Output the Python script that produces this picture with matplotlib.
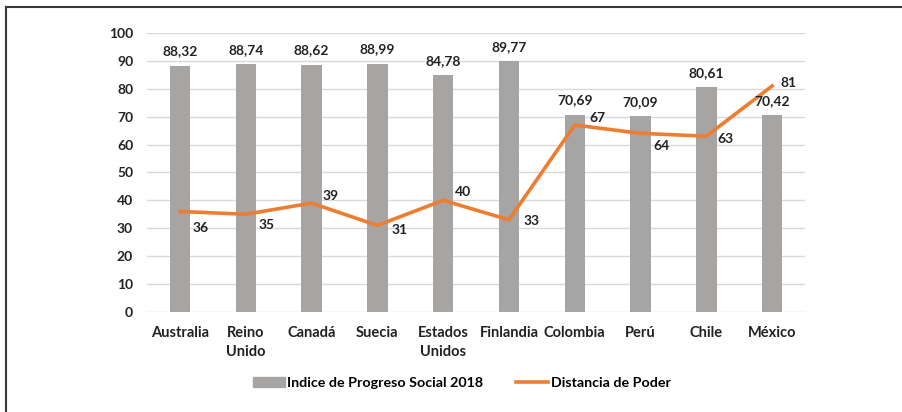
import numpy as np
import matplotlib.pyplot as plt
from matplotlib.lines import Line2D
from matplotlib.patches import Patch

plt.rcParams['font.family'] = ['Lato', 'DejaVu Sans']

paises = ["Australia", "Reino\nUnido", "Canadá", "Suecia", "Estados\nUnidos",
          "Finlandia", "Colombia", "Perú", "Chile", "México"]
ips = [88.32, 88.74, 88.62, 88.99, 84.78, 89.77, 70.69, 70.09, 80.61, 70.42]
distancia = [36, 35, 39, 31, 40, 33, 67, 64, 63, 81]
# offsets de etiquetas de la línea (puntos)
off_dist = [(15, -12), (15, -8), (14, 5), (16, -3), (14, 6), (16, -1),
            (16, 5), (15, -9), (14, -2), (12, 2)]

fig = plt.figure(figsize=(9.02, 4.12), dpi=100)
ax = fig.add_axes([0.163, 0.243, 0.7295, 0.677])

x = np.arange(len(paises))
ax.bar(x, ips, width=0.31, color="#a7a4a4", zorder=2)
ax.plot(x, distancia, color="#ed7d31", linewidth=2.6, zorder=3)

for xi, v in zip(x, ips):
    ax.annotate(f"{v:.2f}".replace(".", ","), (xi, v), xytext=(0, 6),
                textcoords="offset points", ha="center", va="bottom",
                fontsize=10, fontweight="bold", color="#222222")
for xi, v, o in zip(x, distancia, off_dist):
    ax.annotate(str(v), (xi, v), xytext=o, textcoords="offset points",
                ha="center", va="center", fontsize=10, fontweight="bold",
                color="#222222")

ax.set_xlim(-0.5, len(paises) - 0.5)
ax.set_ylim(0, 100)
ax.set_yticks(np.arange(0, 101, 10))
ax.set_xticks(x)
ax.set_xticklabels(paises, fontsize=10.5, fontweight="bold", linespacing=1.45)
for lab in ax.get_yticklabels():
    lab.set_fontweight("bold")
    lab.set_fontsize(10)
ax.tick_params(length=0, pad=10, axis="y", colors="#222222")
ax.tick_params(length=0, pad=10, axis="x", colors="#222222")
ax.grid(axis="y", color="#d9d9d9", linewidth=1, zorder=0)
for s in ax.spines.values():
    s.set_visible(False)

handles = [Patch(color="#a7a4a4"), Line2D([], [], color="#ed7d31", linewidth=2.6)]
fig.legend(handles, ["Indice de Progreso Social 2018", "Distancia de Poder"],
           loc="center", bbox_to_anchor=(0.512, 0.07), ncol=2, frameon=False,
           prop={"weight": "bold", "size": 10.3}, handlelength=2.2,
           handletextpad=0.2, columnspacing=2.3)

# marco del recuadro
fig.add_artist(Line2D([6 / 902, 1], [1 - 7 / 412, 1 - 7 / 412], color="#3a3a3a", linewidth=1.5))
fig.add_artist(Line2D([6 / 902, 6 / 902], [0, 1 - 7 / 412], color="#3a3a3a", linewidth=1.5))

fig.savefig("out.png", dpi=100)
